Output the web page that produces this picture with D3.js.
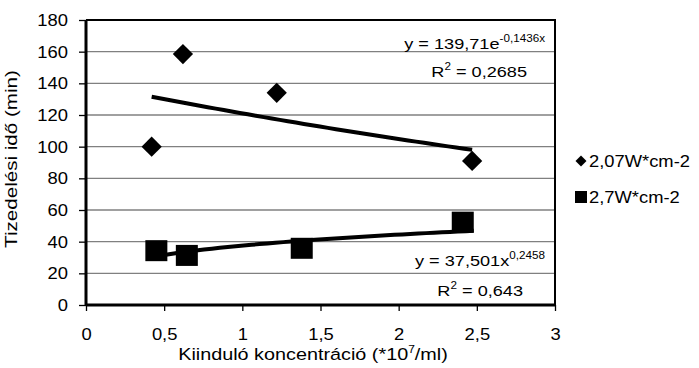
<!DOCTYPE html>
<html><head><meta charset="utf-8">
<script src="https://cdn.jsdelivr.net/npm/d3@7"></script>
<style>body{margin:0;background:#fff}svg text{font-family:"Liberation Sans",Arial,sans-serif;fill:#000}</style>
</head><body>
<svg id="c" width="699" height="368"></svg>
<script>
const seriesNames = ["2,07W*cm-2", "2,7W*cm-2"];
const xA = [0.42, 0.62, 1.22, 2.47];
const yA = [100, 158.5, 134, 91];
const xB = [0.45, 0.645, 1.38, 2.41];
const yB = [34, 31, 35.5, 52];
const trendA = {a: 139.71, b: -0.1436, x0: 0.42, x1: 2.47};
const trendB = {a: 37.501, b: 0.2458, x0: 0.45, x1: 2.48};
const xTicks = [0, 0.5, 1, 1.5, 2, 2.5, 3];
const yTicks = [0, 20, 40, 60, 80, 100, 120, 140, 160, 180];
const fmt = d => String(d).replace(".", ",");

const svg = d3.select("#c");
const L = 86, R = 555, T = 20, B = 305;
const SX = 1.15;
const x = d3.scaleLinear().domain([0, 3]).range([L, R]);
const y = d3.scaleLinear().domain([0, 180]).range([B, T]);

// gridlines
svg.append("g").selectAll("line").data(yTicks.filter(d => d > 0 && d < 180)).join("line")
  .attr("x1", L).attr("x2", R).attr("y1", d => y(d)).attr("y2", d => y(d))
  .attr("stroke", "#808080").attr("stroke-width", 1.3);

// plot border top/right
svg.append("path").attr("d", `M${L},${T}H${R}V${B}`).attr("fill", "none")
  .attr("stroke", "#000").attr("stroke-width", 2);

// axes
const ya = svg.append("g").attr("transform", `translate(${L},0)`)
  .call(d3.axisLeft(y).tickValues(yTicks).tickFormat(fmt).tickSize(7));
const xa = svg.append("g").attr("transform", `translate(0,${B})`)
  .call(d3.axisBottom(x).tickValues(xTicks).tickFormat(fmt).tickSize(6));
[ya, xa].forEach(g => {
  g.select(".domain").attr("stroke", "#000").attr("stroke-width", 3);
  g.selectAll(".tick line").attr("stroke", "#000").attr("stroke-width", 1.3);
});
ya.selectAll(".tick text").attr("x", null).attr("dy", null).attr("font-size", 16)
  .attr("transform", `translate(-18,5.5) scale(${SX},1)`);
xa.selectAll(".tick text").attr("y", null).attr("dy", null).attr("font-size", 16)
  .attr("transform", `translate(0,35) scale(${SX},1)`);
xa.select(".domain").attr("d", `M${L},0H${R}`);
ya.select(".domain").attr("d", `M0,${B}V${T}`);

// trend lines
const line = d3.line().x(d => x(d[0])).y(d => y(d[1]));
const ptsA = d3.range(0, 41).map(i => { const xv = trendA.x0 + (trendA.x1 - trendA.x0) * i / 40; return [xv, trendA.a * Math.exp(trendA.b * xv)]; });
const ptsB = d3.range(0, 41).map(i => { const xv = trendB.x0 + (trendB.x1 - trendB.x0) * i / 40; return [xv, trendB.a * Math.pow(xv, trendB.b)]; });
svg.append("path").attr("d", line(ptsA)).attr("fill", "none").attr("stroke", "#000").attr("stroke-width", 4);
svg.append("path").attr("d", line(ptsB)).attr("fill", "none").attr("stroke", "#000").attr("stroke-width", 4);

// markers
const dia = d3.symbol().type(d3.symbolSquare).size(205);
svg.append("g").selectAll("path").data(xA.map((v, i) => [v, yA[i]])).join("path")
  .attr("d", dia).attr("transform", d => `translate(${x(d[0])},${y(d[1])}) rotate(45)`).attr("fill", "#000");
svg.append("g").selectAll("rect").data(xB.map((v, i) => [v, yB[i]])).join("rect")
  .attr("x", d => x(d[0]) - 11).attr("y", d => y(d[1]) - 11).attr("width", 22).attr("height", 21).attr("fill", "#000");

// text helper (slightly horizontally stretched like the reference)
function txt(tx, ty, anchor, size, sx, rot) {
  return svg.append("text")
    .attr("transform", `translate(${tx},${ty})${rot ? " rotate(" + rot + ")" : ""} scale(${sx},1)`)
    .attr("text-anchor", anchor).attr("font-size", size);
}
function eq(xr, yb, base, sup) {
  const t = txt(xr, yb, "end", 15.5, 1.17);
  t.append("tspan").text(base);
  t.append("tspan").attr("font-size", 10).attr("dy", -7).text(sup);
}
function r2(xr, yb, val) {
  const t = txt(xr, yb, "end", 15.5, 1.17);
  t.append("tspan").text("R");
  t.append("tspan").attr("font-size", 10).attr("dy", -7).text("2");
  t.append("tspan").attr("dy", 7).text(" = " + val);
}
eq(545, 49, "y = 139,71e", "-0,1436x");
r2(527, 77, "0,2685");
eq(545, 266, "y = 37,501x", "0,2458");
r2(523, 296, "0,643");

// legend
svg.append("path").attr("d", d3.symbol().type(d3.symbolSquare).size(60)).attr("transform", "translate(581,161) rotate(45)").attr("fill", "#000");
txt(589, 167, "start", 17, 1.08).text(seriesNames[0]);
svg.append("rect").attr("x", 575).attr("y", 191).attr("width", 12).attr("height", 12).attr("fill", "#000");
txt(589, 203, "start", 17, 1.08).text(seriesNames[1]);

// axis titles
txt(17, 159, "middle", 16.5, 1.25, -90).text("Tizedelési idő (min)");
const xt = txt(313, 360, "middle", 16.5, 1.2);
xt.append("tspan").text("Kiinduló koncentráció (*10");
xt.append("tspan").attr("font-size", 10).attr("dy", -7).text("7");
xt.append("tspan").attr("dy", 7).text("/ml)");
</script>
</body></html>
